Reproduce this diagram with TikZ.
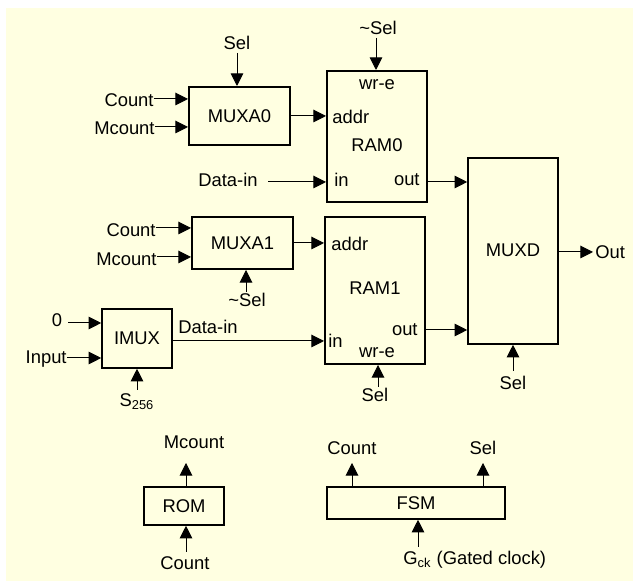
\documentclass[tikz,border=0pt]{standalone}
\usepackage{fontspec}
\setmainfont{Liberation Sans}
\usetikzlibrary{arrows.meta}
\definecolor{bgyellow}{RGB}{255,255,225}
\begin{document}
\begin{tikzpicture}[x=0.5pt,y=-0.5pt,
  every node/.style={font=\fontsize{9.2pt}{10pt}\selectfont, inner sep=0pt},
  blk/.style={draw, line width=1pt},
  blkthin/.style={draw, line width=0.8pt},
  arr/.style={line width=0.5pt, -{Triangle[length=6.3pt,width=6.3pt]}}]
\useasboundingbox (0,0) rectangle (633,581);
\fill[bgyellow] (6,8) rectangle (633,581);

% ---------- blocks ----------
\node[blk, minimum width=50.5pt, minimum height=29pt] (muxa0) at (239.5,116) {MUXA0};
\node[blk, minimum width=50pt, minimum height=65.5pt] (ram0) at (377,136.5) {};
\node[blk, minimum width=50.5pt, minimum height=26pt] (muxa1) at (242.5,243) {MUXA1};
\node[blk, minimum width=50pt, minimum height=73.5pt] (ram1) at (375,290.5) {};
\node[blkthin, minimum width=45pt, minimum height=93pt] (muxd) at (513,251) {};
\node[blkthin, minimum width=35pt, minimum height=29.5pt] (imux) at (137,338.5) {IMUX};
\node[blkthin, minimum width=40pt, minimum height=19pt] (rom) at (184,506) {ROM};
\node[blkthin, minimum width=89pt, minimum height=16pt] (fsm) at (416,503) {FSM};

% ---------- texts inside blocks ----------
\node (ram0t) at (377,145) {RAM0};
\node (ram0w) at (377,85) {wr-e};
\node[anchor=west] (ram0a) at (332,117) {addr};
\node[anchor=west] (ram0i) at (334,180) {in};
\node[anchor=east] (ram0o) at (420,180) {out};
\node (ram1t) at (375,288) {RAM1};
\node[anchor=west] (ram1a) at (331,244) {addr};
\node[anchor=west] (ram1i) at (328,341) {in};
\node[anchor=east] (ram1o) at (418,330) {out};
\node (ram1w) at (377,353) {wr-e};
\node (muxdt) at (513,250) {MUXD};

% ---------- MUXA0 inputs ----------
\node (selA) at (237,43) {Sel};
\coordinate (selAs) at (237,53);
\draw[arr] (selAs) -- (selAs |- muxa0.north);
\node[anchor=east] (cntA) at (154,100) {Count};
\coordinate (cntAs) at (154,99);
\draw[arr] (cntAs) -- (cntAs -| muxa0.west);
\node[anchor=east] (mcntA) at (155,128) {Mcount};
\coordinate (mcntAs) at (155,127);
\draw[arr] (mcntAs) -- (mcntAs -| muxa0.west);
\draw[arr] (muxa0.east) -- (muxa0.east -| ram0.west);

% ---------- RAM0 inputs / output ----------
\node (nselA) at (378,28) {\textasciitilde Sel};
\coordinate (nselAs) at (376,38);
\draw[arr] (nselAs) -- (nselAs |- ram0.north);
\node (dinA) at (228,180) {Data-in};
\coordinate (dinAs) at (268,182);
\draw[arr] (dinAs) -- (dinAs -| ram0.west);
\coordinate (r0out) at (427,182);
\draw[arr] (r0out) -- (r0out -| muxd.west);

% ---------- MUXA1 inputs ----------
\node[anchor=east] (cntB) at (156,230) {Count};
\coordinate (cntBs) at (156,228);
\draw[arr] (cntBs) -- (cntBs -| muxa1.west);
\node[anchor=east] (mcntB) at (157,259) {Mcount};
\coordinate (mcntBs) at (157,257);
\draw[arr] (mcntBs) -- (mcntBs -| muxa1.west);
\node (nselB) at (247,300) {\textasciitilde Sel};
\coordinate (nselBs) at (246,292);
\draw[arr] (nselBs) -- (nselBs |- muxa1.south);
\draw[arr] (muxa1.east) -- (muxa1.east -| ram1.west);

% ---------- IMUX ----------
\node (zero) at (57,320) {0};
\coordinate (zeros) at (68,323);
\draw[arr] (zeros) -- (zeros -| imux.west);
\node[anchor=east] (inp) at (67,359) {Input};
\coordinate (inps) at (67,358);
\draw[arr] (inps) -- (inps -| imux.west);
\node (sbig) at (137,402) {S\textsubscript{256}};
\coordinate (sbigs) at (137,390);
\draw[arr] (sbigs) -- (sbigs |- imux.south);
\coordinate (imo) at (172,341);
\draw[arr] (imo) -- (imo -| ram1.west);
\node (dinB) at (208,327) {Data-in};

% ---------- RAM1 ----------
\coordinate (r1out) at (425,330);
\draw[arr] (r1out) -- (r1out -| muxd.west);
\node (selR1) at (375,395) {Sel};
\coordinate (selR1s) at (378,387);
\draw[arr] (selR1s) -- (selR1s |- ram1.south);

% ---------- MUXD ----------
\coordinate (outp) at (593,252);
\draw[arr] (muxd.east |- outp) -- (outp);
\node[anchor=west] (outt) at (595,252) {Out};
\node (selD) at (513,383) {Sel};
\coordinate (selDs) at (513,371);
\draw[arr] (selDs) -- (selDs |- muxd.south);

% ---------- ROM ----------
\node (mcntR) at (194,442) {Mcount};
\coordinate (romup) at (186,463);
\draw[arr] (romup |- rom.north) -- (romup);
\node (cntR) at (185,563) {Count};
\coordinate (romin) at (186,552);
\draw[arr] (romin) -- (romin |- rom.south);

% ---------- FSM ----------
\node (cntF) at (352,448) {Count};
\coordinate (fsmc) at (352,463);
\draw[arr] (fsmc |- fsm.north) -- (fsmc);
\node (selF) at (483,448) {Sel};
\coordinate (fsms) at (483,463);
\draw[arr] (fsms |- fsm.north) -- (fsms);
\node[anchor=west] (gck) at (403,560) {G\textsubscript{ck} (Gated clock)};
\coordinate (gcks) at (418,547);
\draw[arr] (gcks) -- (gcks |- fsm.south);
\end{tikzpicture}
\end{document}
